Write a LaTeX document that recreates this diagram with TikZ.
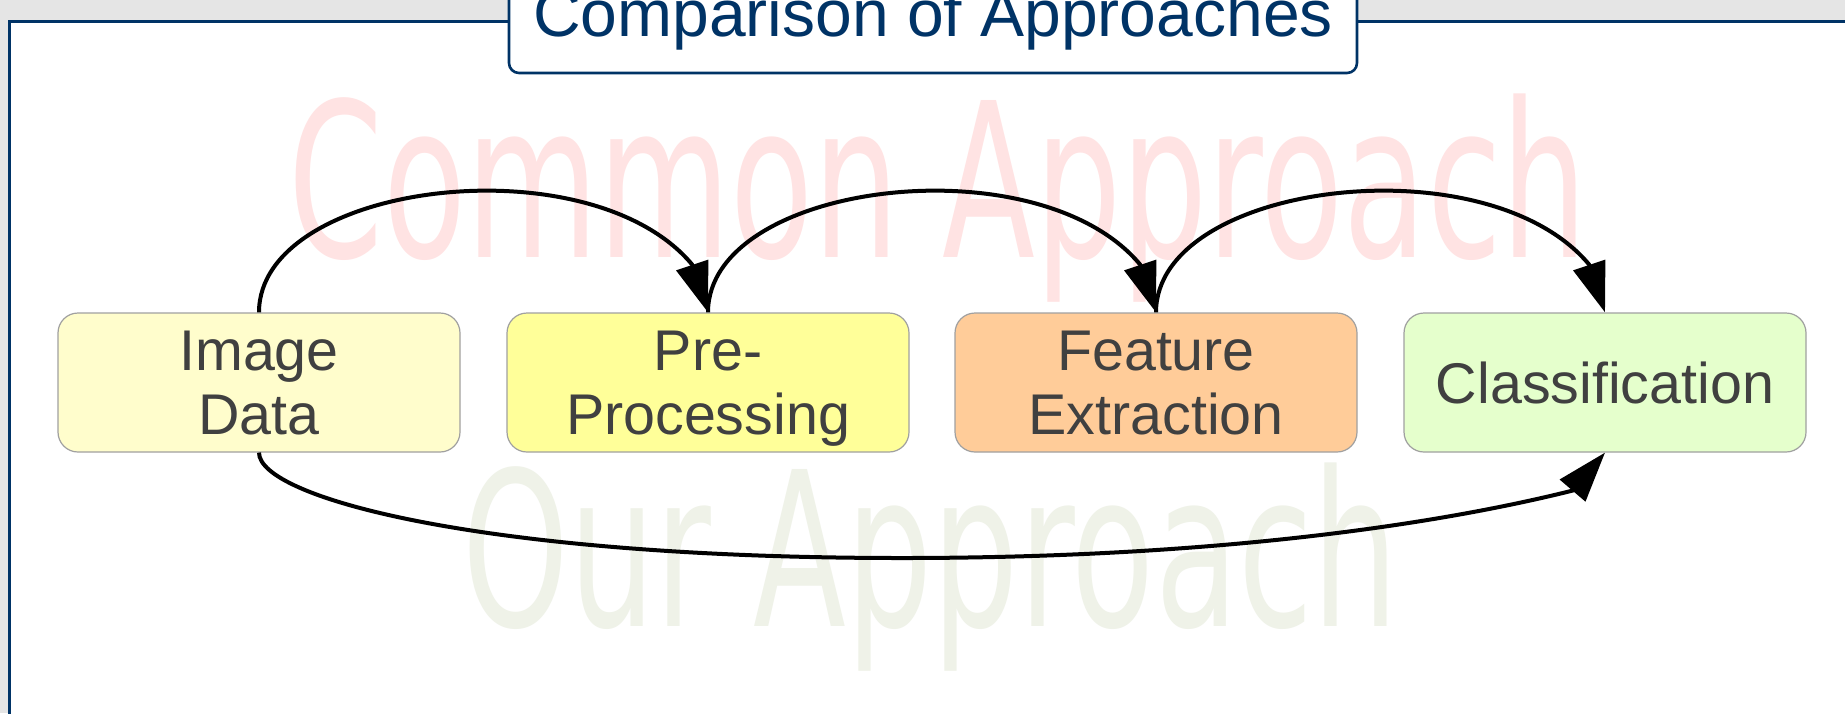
\documentclass[tikz,border=0pt]{standalone}
\usepackage{fontspec}
\setmainfont{Liberation Sans}
\newfontfamily\wmfont{DejaVu Sans}
\usetikzlibrary{arrows.meta,calc}
\definecolor{bggray}{HTML}{E5E5E5}
\definecolor{navy}{HTML}{003366}
\definecolor{boxline}{HTML}{A0A0A0}
\definecolor{txtgray}{HTML}{404040}
\definecolor{wmpink}{HTML}{FFE3E3}
\definecolor{wmgreen}{HTML}{EFF2E8}
\definecolor{fillA}{HTML}{FFFDCC}
\definecolor{fillB}{HTML}{FFFF99}
\definecolor{fillC}{HTML}{FFCC99}
\definecolor{fillD}{HTML}{E5FFCC}
\begin{document}
\begin{tikzpicture}[x=0.5pt,y=-0.5pt,
  stage/.style={rectangle, rounded corners=10pt, draw=boxline, line width=0.6pt,
    minimum width=201pt, minimum height=69.5pt, text=txtgray, align=center,
    font=\fontsize{28.7}{32.2}\selectfont, text depth=0pt, inner sep=0pt},
  flow/.style={line width=2pt, -{Triangle[length=25pt,width=16.5pt]}},
  wm/.style={anchor=base, inner sep=0pt, font=\wmfont\fontsize{107.7}{110}\selectfont},
  titlebox/.style={rectangle, rounded corners=5pt, draw=navy, line width=1.3pt,
    fill=white, text=navy, font=\fontsize{33}{38}\selectfont, anchor=base,
    minimum width=424pt, text height=28pt, text depth=18.5pt, inner sep=0pt}
]
\useasboundingbox (0,0) rectangle (1845,713);
\clip (0,0) rectangle (1845,713);
\fill[bggray] (0,0) rectangle (1845,713);
\draw[navy, line width=1.5pt, fill=white] (9.5,21.5) rectangle (1900,760);
\node[wm, text=wmpink] (common) at (938,257) {\scalebox{0.63}[1]{Common Approach}};
\node[wm, text=wmgreen] (our) at (930.5,626) {\scalebox{0.63}[1]{Our Approach}};
\node[titlebox] (title) at (933,36) {Comparison of Approaches};
\node[stage, fill=fillA] (img) at (259,382.5) {Image\\Data};
\node[stage, fill=fillB] (pre) at (708,382.5) {Pre-\\Processing};
\node[stage, fill=fillC] (feat) at (1156,382.5) {Feature\\Extraction};
\node[stage, fill=fillD] (cls) at (1605,382.5) {Classification};
\draw[flow] (img.north) .. controls +(0,-130) and +(-103,-123) .. ($(pre.north)+(-16,-48)$) -- (pre.north);
\draw[flow] (pre.north) .. controls +(0,-130) and +(-103,-123) .. ($(feat.north)+(-16,-48)$) -- (feat.north);
\draw[flow] (feat.north) .. controls +(0,-130) and +(-103,-123) .. ($(cls.north)+(-16,-48)$) -- (cls.north);
\coordinate (low) at (902,558);
\draw[flow] (img.south) .. controls +(0,45) and +(-420,0) .. (low) .. controls +(300,0) and +(-145.5,36.3) .. ($(cls.south)+(-32.5,38)$) -- (cls.south);
\end{tikzpicture}
\end{document}
